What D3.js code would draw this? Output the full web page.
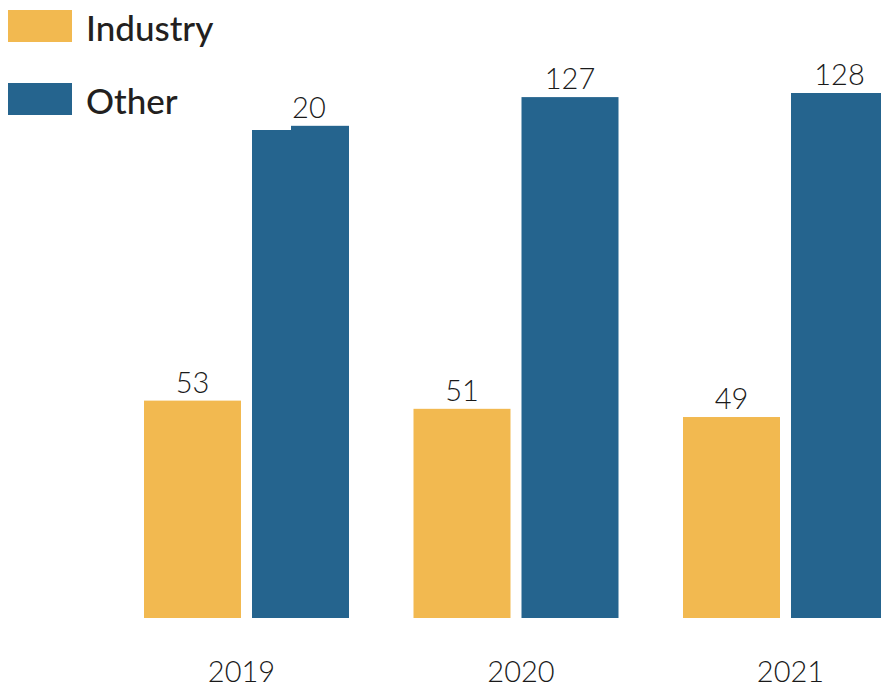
<!DOCTYPE html>
<html>
<head>
<meta charset="utf-8">
<script src="https://cdn.jsdelivr.net/npm/d3@7"></script>
<style>
  html, body { margin: 0; padding: 0; background: #fff; overflow: hidden; }
  svg { display: block; }
  .val { font-family: Lato, "Open Sans", sans-serif; font-weight: 300; font-size: 29px; fill: #1a1a1a; }
  .year { font-family: Lato, "Open Sans", sans-serif; font-weight: 300; font-size: 29px; fill: #1a1a1a; }
  .leg { font-family: Lato, "Open Sans", sans-serif; font-weight: 500; font-size: 35px; fill: #231f20; }
</style>
</head>
<body>
<div id="viz"></div>
<script>
const years = ['2019', '2020', '2021'];
const series = ['Industry', 'Other'];
const industry = [53, 51, 49];
const other = [120, 127, 128];
const colors = ['#F2B950', '#25648E'];

const W = 881, H = 687;
const svg = d3.select('#viz').append('svg').attr('width', W).attr('height', H);

const x0 = d3.scaleBand().domain(years).range([144, 888]).paddingInner(64.5 / 269.5);
const x1 = d3.scaleBand().domain(series).range([0, x0.bandwidth()]).paddingInner(11 / 108);
const y = d3.scaleLinear().domain([0, 128]).range([618, 93]);

const rows = years.map((yr, i) => ({ year: yr, vals: [industry[i], other[i]] }));

const groups = svg.append('g').selectAll('g').data(rows).join('g')
  .attr('transform', d => `translate(${x0(d.year)},0)`);

groups.selectAll('rect').data(d => d.vals.map((v, j) => ({ s: series[j], v, c: colors[j] })))
  .join('rect')
  .attr('x', d => x1(d.s))
  .attr('y', d => y(d.v))
  .attr('width', x1.bandwidth())
  .attr('height', d => y(0) - y(d.v))
  .attr('fill', d => d.c);

groups.selectAll('text.val').data(d => d.vals.map((v, j) => ({ s: series[j], v })))
  .join('text')
  .attr('class', 'val')
  .attr('text-anchor', 'middle')
  .attr('x', d => x1(d.s) + x1.bandwidth() / 2)
  .attr('y', d => y(d.v) - 8)
  .text(d => d.v);

// year labels sit slightly off the group centres in the original
svg.append('g').selectAll('text').data(years).join('text')
  .attr('class', 'year')
  .attr('text-anchor', 'middle')
  .attr('x', (d, i) => x0(d) + x0.bandwidth() / 2 + (i === 0 ? -5 : 5))
  .attr('y', 682)
  .text(d => d);

// legend box sits on top of the chart (white background)
const leg = svg.append('g');
leg.append('rect').attr('x', 0).attr('y', 0).attr('width', 291).attr('height', 130).attr('fill', '#fff');
const li = leg.selectAll('g').data(series).join('g')
  .attr('transform', (d, i) => `translate(8,${10 + i * 73})`);
li.append('rect').attr('width', 64).attr('height', 32).attr('fill', (d, i) => colors[i]);
li.append('text').attr('class', 'leg').attr('x', 78).attr('y', 31).text(d => d);
</script>
</body>
</html>
